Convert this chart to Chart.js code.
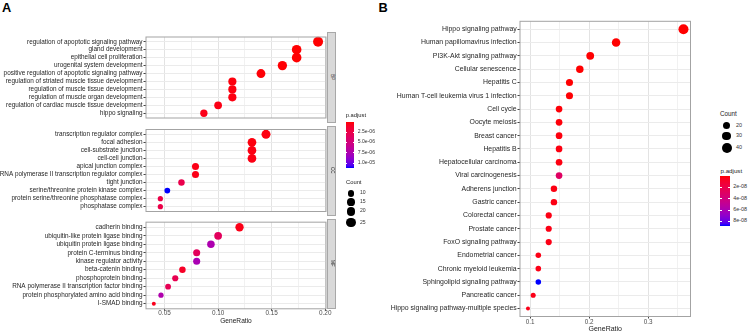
<!DOCTYPE html>
<html><head><meta charset="utf-8">
<script src="https://cdn.jsdelivr.net/npm/chart.js@4.4.1/dist/chart.umd.min.js"></script>
<style>
html,body{margin:0;padding:0;background:#fff;}
body{width:748px;height:333px;overflow:hidden;position:relative;font-family:"Liberation Sans",Arial,Helvetica,sans-serif;}
canvas{position:absolute;}
.t{position:absolute;white-space:nowrap;color:#1a1a1a;line-height:1;transform:translateY(-50%);}
.strip{position:absolute;box-sizing:border-box;background:#d9d9d9;border:1px solid #a8a8a8;display:flex;align-items:center;justify-content:center;}
.strip span{writing-mode:vertical-rl;font-size:4.6px;color:#1a1a1a;line-height:1;}
.bar{position:absolute;}
.dot{position:absolute;border-radius:50%;background:#000;}
</style></head><body>
<script>
// ---------------- DATA ----------------
// Panel A - BP
const bpTerms = ["regulation of apoptotic signaling pathway","gland development","epithelial cell proliferation","urogenital system development","positive regulation of apoptotic signaling pathway","regulation of striated muscle tissue development","regulation of muscle tissue development","regulation of muscle organ development","regulation of cardiac muscle tissue development","hippo signaling"];
const bpGeneRatio = [0.1933,0.1733,0.1733,0.1600,0.1400,0.1133,0.1133,0.1133,0.1000,0.0867];
const bpCount = [29,26,26,24,21,17,17,17,15,13];
const bpPadj = [2.1e-8,3.4e-8,4.0e-8,6.5e-8,1.2e-7,2.3e-7,2.6e-7,3.1e-7,4.2e-7,5.0e-7];
// Panel A - CC
const ccTerms = ["transcription regulator complex","focal adhesion","cell-substrate junction","cell-cell junction","apical junction complex","RNA polymerase II transcription regulator complex","tight junction","serine/threonine protein kinase complex","protein serine/threonine phosphatase complex","phosphatase complex"];
const ccGeneRatio = [0.1447,0.1316,0.1316,0.1316,0.0789,0.0789,0.0658,0.0526,0.0461,0.0461];
const ccCount = [22,20,20,20,12,12,10,8,7,7];
const ccPadj = [3.0e-7,2.4e-7,3.5e-7,3.8e-7,4.5e-7,5.0e-7,2.6e-6,1.113e-5,2.4e-6,2.4e-6];
// Panel A - MF
const mfTerms = ["cadherin binding","ubiquitin-like protein ligase binding","ubiquitin protein ligase binding","protein C-terminus binding","kinase regulator activity","beta-catenin binding","phosphoprotein binding","RNA polymerase II transcription factor binding","protein phosphorylated amino acid binding","I-SMAD binding"];
const mfGeneRatio = [0.1200,0.1000,0.0933,0.0800,0.0800,0.0667,0.0600,0.0533,0.0467,0.0400];
const mfCount = [18,15,14,12,12,10,9,8,7,6];
const mfPadj = [5.0e-7,3.4e-6,7.4e-6,3.3e-6,7.6e-6,1.0e-6,2.8e-6,3.0e-6,7.3e-6,6.0e-7];
// Panel A axes / legends
const aXTicks = [0.05,0.10,0.15,0.20];
const aPadjBreaks = [2.5e-6,5.0e-6,7.5e-6,1.0e-5];
const aPadjLabels = ["2.5e-06","5.0e-06","7.5e-06","1.0e-05"];
const aCountBreaks = [10,15,20,25];
const aStrips = ["BP","CC","MF"];
// Panel B - KEGG
const kTerms = ["Hippo signaling pathway","Human papillomavirus infection","PI3K-Akt signaling pathway","Cellular senescence","Hepatitis C","Human T-cell leukemia virus 1 infection","Cell cycle","Oocyte meiosis","Breast cancer","Hepatitis B","Hepatocellular carcinoma","Viral carcinogenesis","Adherens junction","Gastric cancer","Colorectal cancer","Prostate cancer","FoxO signaling pathway","Endometrial cancer","Chronic myeloid leukemia","Sphingolipid signaling pathway","Pancreatic cancer","Hippo signaling pathway-multiple species"];
const kGeneRatio = [0.3596,0.2456,0.2018,0.1842,0.1667,0.1667,0.1491,0.1491,0.1491,0.1491,0.1491,0.1491,0.1404,0.1404,0.1316,0.1316,0.1316,0.1140,0.1140,0.1140,0.1053,0.0965];
const kCount = [41,28,23,21,19,19,17,17,17,17,17,17,16,16,15,15,15,13,13,13,12,11];
const kPadj = [1.2e-13,4.0e-12,2.1e-10,1.5e-10,3.0e-10,6.1e-10,1.1e-9,1.4e-9,2.0e-9,2.2e-9,2.4e-9,2.9e-8,2.6e-9,2.8e-9,3.0e-9,3.2e-9,3.4e-9,3.5e-9,3.6e-9,8.75e-8,3.8e-9,4.0e-9];
const bXTicks = [0.1,0.2,0.3];
const bPadjBreaks = [2e-8,4e-8,6e-8,8e-8];
const bPadjLabels = ["2e-08","4e-08","6e-08","8e-08"];
const bCountBreaks = [20,30,40];

// ---------------- HELPERS ----------------
const FONT = '"Liberation Sans", Arial, Helvetica, sans-serif';
const RED_LAB=[53.2408,80.0925,67.2032], BLUE_LAB=[32.2970,79.1875,-107.8602];
function lab2rgb(L,a,b){
  let y=(L+16)/116, x=a/500+y, z=y-b/200;
  const f=t=>{const t3=t*t*t;return t3>0.008856?t3:(t-16/116)/7.787;};
  x=0.95047*f(x); y=f(y); z=1.08883*f(z);
  const r=x*3.2406+y*-1.5372+z*-0.4986, g=x*-0.9689+y*1.8758+z*0.0415, bb=x*0.0557+y*-0.2040+z*1.0570;
  const gam=c=>c>0.0031308?1.055*Math.pow(c,1/2.4)-0.055:12.92*c;
  return [r,g,bb].map(c=>Math.round(Math.max(0,Math.min(1,gam(c)))*255));
}
function gradCol(t){t=Math.max(0,Math.min(1,t));const L=RED_LAB.map((v,i)=>v+(BLUE_LAB[i]-v)*t);const c=lab2rgb(L[0],L[1],L[2]);return `rgb(${c[0]},${c[1]},${c[2]})`;}
function radius(c,cmin,cmax){return 2+3*Math.sqrt(Math.max(0,(c-cmin)/(cmax-cmin)));}

const borderPlugin={id:'pborder',afterDatasetsDraw(ch){const a=ch.chartArea,ctx=ch.ctx;ctx.save();ctx.strokeStyle='#a3a3a3';ctx.lineWidth=1;ctx.strokeRect(a.left,a.top,a.right-a.left,a.bottom-a.top);ctx.restore();}};

function facet(o){
  const cv=document.createElement('canvas');
  cv.width=o.w; cv.height=o.h;
  cv.style.left=o.left+'px'; cv.style.top=o.top+'px';
  cv.style.width=o.w+'px'; cv.style.height=o.h+'px';
  document.body.appendChild(cv);
  const n=o.terms.length;
  const step=o.major[1]-o.major[0];
  const vals=[];
  o.major.forEach(m=>{[m-step/2,m,m+step/2].forEach(v=>{if(v>=o.xmin-1e-9&&v<=o.xmax+1e-9&&!vals.some(u=>Math.abs(u-v)<1e-9))vals.push(v);});});
  vals.sort((p,q)=>p-q);
  const isMajor=v=>o.major.some(m=>Math.abs(m-v)<1e-9);
  new Chart(cv,{type:'scatter',
    data:{datasets:[{
      data:o.terms.map((t,i)=>({x:o.ratio[i],y:i})),
      pointRadius:c=>radius(o.count[c.dataIndex],o.cmin,o.cmax),
      pointHoverRadius:c=>radius(o.count[c.dataIndex],o.cmin,o.cmax),
      backgroundColor:c=>gradCol(o.padj[c.dataIndex]/o.pmax),
      borderWidth:0, clip:false}]},
    options:{responsive:false,animation:false,devicePixelRatio:1,events:[],
      layout:{padding:{left:0,top:o.padTop,right:o.padRight,bottom:o.padBottom}},
      plugins:{legend:{display:false},tooltip:{enabled:false}},
      scales:{
        x:{type:'linear',min:o.xmin,max:o.xmax,bounds:'data',
          afterBuildTicks:s=>{s.ticks=vals.map(v=>({value:v}));},
          afterFit:s=>{s.height=o.xh;s.paddingLeft=0;s.paddingRight=0;},
          ticks:{display:o.showX,autoSkip:false,maxRotation:0,minRotation:0,padding:o.xPad,
            font:{family:FONT,size:o.xFont,lineHeight:1},color:'#4d4d4d',
            callback:v=>isMajor(v)?v.toFixed(o.dec):''},
          grid:{color:c=>isMajor(c.tick.value)?'#e3e3e3':'#f1f1f1',lineWidth:1,drawTicks:o.showX,tickLength:2,
            tickColor:c=>isMajor(c.tick.value)?'#444':'rgba(0,0,0,0)'},
          border:{display:false},
          title:{display:o.showX,text:'GeneRatio',color:'#1a1a1a',font:{family:FONT,size:o.titleFont,lineHeight:1},padding:{top:0,bottom:o.titlePad}}
        },
        y:{type:'linear',min:-0.6,max:n-0.4,reverse:true,bounds:'data',
          afterBuildTicks:s=>{s.ticks=o.terms.map((t,i)=>({value:i}));},
          afterFit:s=>{s.width=o.yw;s.paddingTop=0;s.paddingBottom=0;},
          ticks:{autoSkip:false,padding:o.yPad,font:{family:FONT,size:o.yFont},color:'#262626',
            callback:v=>o.terms[Math.round(v)]},
          grid:{color:'#ebebeb',lineWidth:1,tickLength:2.5,tickColor:'#444'},
          border:{display:false}
        }
      }},
    plugins:[borderPlugin]});
}

function txt(x,cy,s,size,extra){const d=document.createElement('div');d.className='t';d.textContent=s;d.style.left=x+'px';d.style.top=cy+'px';d.style.fontSize=size+'px';if(extra)Object.assign(d.style,extra);document.body.appendChild(d);return d;}
function colorbar(x,y,w,h,pmin,pmax,breaks,labels,labX,labSize){
  const d=document.createElement('div');d.className='bar';
  const stops=[];for(let i=0;i<=20;i++){stops.push(gradCol(i/20)+' '+(i*5)+'%');}
  Object.assign(d.style,{left:x+'px',top:y+'px',width:w+'px',height:h+'px',background:'linear-gradient(to bottom,'+stops.join(',')+')'});
  document.body.appendChild(d);
  breaks.forEach((b,i)=>{
    const cy=y+(b-pmin)/(pmax-pmin)*h;
    [x,x+w-w/5].forEach(tx=>{const t=document.createElement('div');Object.assign(t.style,{position:'absolute',left:tx+'px',top:(cy-0.4)+'px',width:(w/5)+'px',height:'0.8px',background:'#fff'});document.body.appendChild(t);});
    txt(labX,cy,labels[i],labSize,{color:'#333'});
  });
}
function dot(cx,cy,r){const d=document.createElement('div');d.className='dot';Object.assign(d.style,{left:(cx-r)+'px',top:(cy-r)+'px',width:(2*r)+'px',height:(2*r)+'px'});document.body.appendChild(d);}

// ---------------- PANEL A ----------------
const aCmin=Math.min(...bpCount,...ccCount,...mfCount), aCmax=Math.max(...bpCount,...ccCount,...mfCount);
const aPmax=Math.max(...bpPadj,...ccPadj,...mfPadj);
const aCommon={left:0,w:338,yw:146,padRight:12,xmin:0.0327,xmax:0.2007,major:aXTicks,dec:2,cmin:aCmin,cmax:aCmax,pmax:aPmax,yFont:6.4,yPad:1,xFont:6.4,xPad:-0.7,titleFont:6.6,titlePad:8.7};
const aFacets=[
  {terms:bpTerms,ratio:bpGeneRatio,count:bpCount,padj:bpPadj,top:32,h:91,padTop:0.4,padBottom:0.4,xh:0,showX:false,areaTop:32.4},
  {terms:ccTerms,ratio:ccGeneRatio,count:ccCount,padj:ccPadj,top:125,h:91,padTop:0.6,padBottom:0.2,xh:0,showX:false,areaTop:125.6},
  {terms:mfTerms,ratio:mfGeneRatio,count:mfCount,padj:mfPadj,top:218,h:115,padTop:0.6,padBottom:0,xh:24.2,showX:true,areaTop:218.6}
];
aFacets.forEach(f=>facet(Object.assign({},aCommon,f)));
aFacets.forEach((f,i)=>{const s=document.createElement('div');s.className='strip';Object.assign(s.style,{left:'326.6px',top:f.areaTop+'px',width:'9.6px',height:'90.2px'});const sp=document.createElement('span');sp.textContent=aStrips[i];s.appendChild(sp);document.body.appendChild(s);});

// ---------------- PANEL B ----------------
facet({terms:kTerms,ratio:kGeneRatio,count:kCount,padj:kPadj,left:380,top:15,w:340,h:318,yw:140,padTop:6.3,padRight:29.5,padBottom:0,xh:16.5,showX:true,
  xmin:0.0830,xmax:0.3715,major:bXTicks,dec:1,cmin:Math.min(...kCount),cmax:Math.max(...kCount),pmax:Math.max(...kPadj),
  yFont:6.9,yPad:0.8,xFont:6.3,xPad:0.2,titleFont:7,titlePad:0});

// ---------------- LEGENDS / LETTERS ----------------
txt(2,7.6,'A',12.8,{fontWeight:'bold',color:'#000'});
txt(378.5,8,'B',12.8,{fontWeight:'bold',color:'#000'});
// A legends
txt(345.7,116,'p.adjust',5.8);
colorbar(345.7,121.7,8.6,46,0,aPmax,aPadjBreaks,aPadjLabels,357.7,5.1);
txt(346,182.7,'Count',5.8);
[193.3,202.3,211.3,222.7].forEach((cy,i)=>{dot(351,cy,radius(aCountBreaks[i],aCmin,aCmax));txt(360,cy,String(aCountBreaks[i]),5.1,{color:'#333'});});
// B legends
const kCmin=Math.min(...kCount),kCmax=Math.max(...kCount);
txt(720,114.3,'Count',6.3);
[125.7,136,147.7].forEach((cy,i)=>{dot(726.7,cy,radius(bCountBreaks[i],kCmin,kCmax));txt(736,cy,String(bCountBreaks[i]),5.4,{color:'#333'});});
txt(720.5,170.7,'p.adjust',6.2);
colorbar(720.3,176,9.7,49.7,0,Math.max(...kPadj),bPadjBreaks,bPadjLabels,733.3,5.4);
</script>
</body></html>
